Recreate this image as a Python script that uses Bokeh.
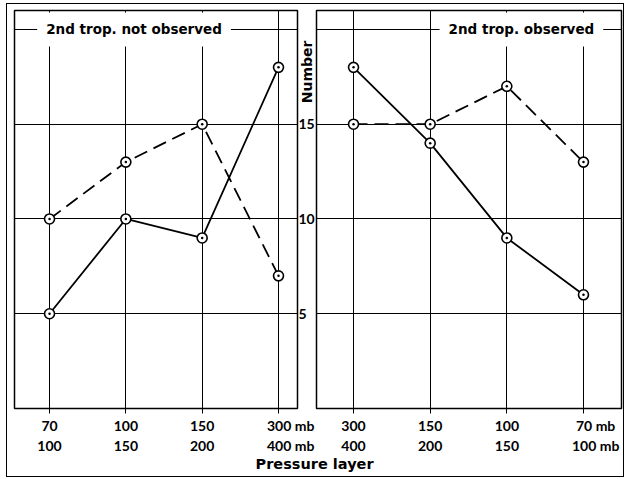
from bokeh.plotting import figure
from bokeh.models import FixedTicker, Label, Range1d
from bokeh.layouts import column, row
from bokeh.embed import file_html
from bokeh.resources import INLINE
from bokeh.core.properties import value

# ---- data -------------------------------------------------------------
left_layer_top = ["70", "100", "150", "300"]
left_layer_bottom = ["100", "150", "200", "400"]
left_solid = [5, 10, 9, 18]
left_dashed = [10, 13, 15, 7]
left_title = "2nd trop. not observed"

right_layer_top = ["300", "150", "100", "70"]
right_layer_bottom = ["400", "200", "150", "100"]
right_solid = [18, 14, 9, 6]
right_dashed = [15, 15, 17, 13]
right_title = "2nd trop. observed"

y_ticks = [5, 10, 15]
grid_levels = [5, 10, 15, 20]
y_label = "Number"
x_label = "Pressure layer"
unit = "mb"

NUM_FONT = "Lato"
WORD_FONT = "DejaVu Sans"
FS = "14px"
PAD = "\u2007\u2007\u2007"   # keeps the number centred on its tick when " mb" follows


def tick_text(i, t, b, n):
    if i == n - 1:
        return f"{PAD}{t}\u00a0{unit}\n{PAD}{b}\u00a0{unit}"
    return f"{t}\n{b}"


def panel(width, b_left, b_right, x_start, x_end, tops, bottoms, solid, dashed,
          panel_title, title_x, y_axis, **kw):
    p = figure(width=width, height=452,
               x_range=Range1d(x_start, x_end), y_range=Range1d(0, 21),
               output_backend="svg", toolbar_location=None,
               min_border_left=b_left, min_border_right=b_right,
               min_border_top=6, min_border_bottom=44,
               y_axis_location="right" if y_axis else None, **kw)
    xs = list(range(len(tops)))
    p.xaxis.ticker = FixedTicker(ticks=xs)
    p.xaxis.major_label_overrides = {i: tick_text(i, t, b, len(tops))
                                     for i, (t, b) in enumerate(zip(tops, bottoms))}
    p.xaxis.axis_line_color = None
    p.xaxis.major_tick_out = 5
    p.xaxis.major_tick_in = 0
    p.xaxis.major_tick_line_color = "black"
    p.xaxis.minor_tick_line_color = None
    p.xaxis.major_label_standoff = 3
    p.xaxis.major_label_text_font = NUM_FONT
    p.xaxis.major_label_text_font_style = "bold"
    p.xaxis.major_label_text_font_size = FS
    p.xaxis.major_label_text_color = "black"

    if y_axis:
        ya = p.yaxis[0]
        ya.ticker = FixedTicker(ticks=y_ticks)
        ya.axis_line_color = None
        ya.major_tick_out = 0
        ya.major_tick_in = 0
        ya.minor_tick_line_color = None
        ya.major_label_standoff = 1
        ya.major_label_text_font = NUM_FONT
        ya.major_label_text_font_style = "bold"
        ya.major_label_text_font_size = FS
        ya.major_label_text_color = "black"

    p.xgrid.ticker = FixedTicker(ticks=xs)
    p.ygrid.ticker = FixedTicker(ticks=grid_levels)
    for g in (p.xgrid, p.ygrid):
        g.grid_line_color = "black"
        g.grid_line_alpha = 1
        g.grid_line_width = 1

    p.outline_line_color = "black"
    p.outline_line_width = 1.5
    p.outline_line_alpha = 1

    p.line(xs, dashed, line_color="black", line_width=1.8, line_dash="14 7")
    p.line(xs, solid, line_color="black", line_width=1.8)
    for ys in (dashed, solid):
        p.scatter(xs, ys, marker="circle_dot", size=10, fill_color="white",
                  line_color="black", line_width=1.6)

    p.add_layout(Label(x=title_x, y=grid_levels[-1], text=panel_title,
                       text_align="center", text_baseline="middle",
                       text_font=WORD_FONT, text_font_style="bold", text_font_size="13.5px",
                       text_color="black", background_fill_color="white",
                       padding=9))
    return p


# left panel: frame 14..297 px, right border holds the y tick labels and the " mb" tails
p1 = panel(312, 7, 22, -0.459, 3.249, left_layer_top, left_layer_bottom,
           left_solid, left_dashed, left_title, 1.107, True)

# right panel: its (transparent) left border overlaps the gap and carries "Number"
p2 = panel(329, 22, 2, -0.483, 3.496, right_layer_top, right_layer_bottom,
           right_solid, right_dashed, right_title, 2.19, False,
           title=y_label, title_location="left")
p2.title.align = "right"
p2.title.offset = 30
p2.title.standoff = 3
p2.title.text_font = WORD_FONT
p2.title.text_font_style = "bold"
p2.title.text_font_size = FS
p2.title.text_color = "black"
p2.border_fill_color = None
p2.margin = (0, 0, 0, -25)

p3 = figure(width=616, height=20, x_range=Range1d(0, 1), y_range=Range1d(0, 1),
            output_backend="svg", toolbar_location=None,
            min_border_left=0, min_border_right=0, min_border_top=0, min_border_bottom=0,
            x_axis_location=None, y_axis_location=None)
p3.grid.visible = False
p3.outline_line_color = None
p3.text(x=[0.4985], y=[0.62], text=[x_label], text_align="center", text_baseline="middle",
        text_font=value(WORD_FONT), text_font_style="bold", text_font_size="14.5px",
        text_color="black")

layout = column(row(p1, p2), p3, styles={"border": "1.5px solid black"}, margin=(3, 0, 0, 6))

open("out.html", "w").write(file_html(layout, INLINE))
